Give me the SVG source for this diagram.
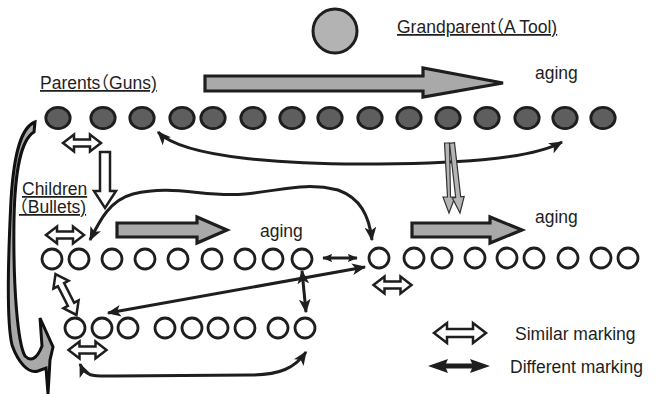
<svg xmlns="http://www.w3.org/2000/svg" xmlns:xlink="http://www.w3.org/1999/xlink" width="656" height="394" viewBox="0 0 656 394">
<style>
text{font-family:"Liberation Sans","Noto Sans CJK JP",sans-serif;font-size:17.5px;fill:#1e1e1e;font-feature-settings:"halt"}
.u{text-decoration:underline}
.pa{fill:#5e5e5e;stroke:#1e1e1e;stroke-width:2.8}
.ch{fill:#fff;stroke:#1e1e1e;stroke-width:2.8}
.gp{fill:#b3b3b3;stroke:#1e1e1e;stroke-width:3}
.big{fill:#a9a9a9;stroke:#1e1e1e;stroke-width:3.2;stroke-linejoin:miter}
.rib{fill:#a9a9a9;stroke:#111;stroke-width:3;stroke-linejoin:miter}
.thin{fill:#b5b5b5;stroke:#333;stroke-width:1.2}
.hol{fill:#fff;stroke:#1e1e1e;stroke-width:2.5;stroke-linejoin:miter}
.con{fill:none;stroke:#1e1e1e;stroke-width:3;marker-start:url(#ah);marker-end:url(#ah)}
.cons{fill:none;stroke:#1e1e1e;stroke-width:3;marker-start:url(#ahs);marker-end:url(#ahs)}
</style>
<defs>
<marker id="ah" viewBox="0 0 12 10" refX="11" refY="5" markerWidth="14" markerHeight="12" markerUnits="userSpaceOnUse" orient="auto-start-reverse"><path d="M0,0 L12,5 L0,10 L3,5 Z" fill="#1e1e1e"/></marker>
<marker id="ahs" viewBox="0 0 12 10" refX="11" refY="5" markerWidth="10" markerHeight="9" markerUnits="userSpaceOnUse" orient="auto-start-reverse"><path d="M0,0 L12,5 L0,10 L2,5 Z" fill="#1e1e1e"/></marker>
<path id="h38" class="hol" d="M-19,0 L-8,-8.5 L-8,-3.5 L8,-3.5 L8,-8.5 L19,0 L8,8.5 L8,3.5 L-8,3.5 L-8,8.5 Z"/>
</defs>

<g id="grandparent"><circle class="gp" cx="335" cy="31" r="22"/></g>
<g id="labels">
<text class="u" x="397" y="33">Grandparent（A Tool)</text>
<text class="u" x="40" y="89">Parents（Guns)</text>
<text class="u" x="22" y="195">Children</text>
<text class="u" x="19" y="213">（Bullets)</text>
<text x="535" y="79">aging</text>
<text x="260" y="237">aging</text>
<text x="535" y="223">aging</text>
<text x="515" y="340">Similar marking</text>
<text x="510" y="373">Different marking</text>
</g>

<g id="aging-arrows">
<path class="big" d="M205,76 L423,76 L423,68 L503,83 L423,97 L423,91 L205,91 Z"/>
<path class="big" d="M117,223 L197,223 L197,217 L227,230 L197,243 L197,237 L117,237 Z"/>
<path class="big" d="M412,223 L490,223 L490,217 L522,230 L490,243 L490,237 L412,237 Z"/>
</g>

<g id="parents">
<g id="p1"><ellipse class="pa" cx="58" cy="118" rx="12.2" ry="10.6"/></g>
<g id="p2"><ellipse class="pa" cx="103" cy="118" rx="12.2" ry="10.6"/></g>
<g id="p3"><ellipse class="pa" cx="142" cy="118" rx="12.2" ry="10.6"/></g>
<g id="p4"><ellipse class="pa" cx="182" cy="118" rx="12.2" ry="10.6"/></g>
<g id="p5"><ellipse class="pa" cx="213" cy="118" rx="12.2" ry="10.6"/></g>
<g id="p6"><ellipse class="pa" cx="253" cy="118" rx="12.2" ry="10.6"/></g>
<g id="p7"><ellipse class="pa" cx="292" cy="118" rx="12.2" ry="10.6"/></g>
<g id="p8"><ellipse class="pa" cx="330" cy="118" rx="12.2" ry="10.6"/></g>
<g id="p9"><ellipse class="pa" cx="370" cy="118" rx="12.2" ry="10.6"/></g>
<g id="p10"><ellipse class="pa" cx="409" cy="118" rx="12.2" ry="10.6"/></g>
<g id="p11"><ellipse class="pa" cx="448" cy="118" rx="12.2" ry="10.6"/></g>
<g id="p12"><ellipse class="pa" cx="487" cy="118" rx="12.2" ry="10.6"/></g>
<g id="p13"><ellipse class="pa" cx="527" cy="118" rx="12.2" ry="10.6"/></g>
<g id="p14"><ellipse class="pa" cx="565" cy="118" rx="12.2" ry="10.6"/></g>
<g id="p15"><ellipse class="pa" cx="603" cy="118" rx="12.2" ry="10.6"/></g>
</g>

<g id="children-row1">
<g id="a1"><circle class="ch" cx="52" cy="259" r="10"/></g>
<g id="a2"><circle class="ch" cx="79" cy="259" r="10"/></g>
<g id="a3"><circle class="ch" cx="112" cy="259" r="10"/></g>
<g id="a4"><circle class="ch" cx="145" cy="259" r="10"/></g>
<g id="a5"><circle class="ch" cx="178" cy="259" r="10"/></g>
<g id="a6"><circle class="ch" cx="212" cy="259" r="10"/></g>
<g id="a7"><circle class="ch" cx="245" cy="259" r="10"/></g>
<g id="a8"><circle class="ch" cx="273" cy="259" r="10"/></g>
<g id="a9"><circle class="ch" cx="302" cy="259" r="10"/></g>
<g id="b1"><circle class="ch" cx="379" cy="258" r="10"/></g>
<g id="b2"><circle class="ch" cx="414" cy="258" r="10"/></g>
<g id="b3"><circle class="ch" cx="442" cy="258" r="10"/></g>
<g id="b4"><circle class="ch" cx="475" cy="258" r="10"/></g>
<g id="b5"><circle class="ch" cx="507" cy="258" r="10"/></g>
<g id="b6"><circle class="ch" cx="534" cy="258" r="10"/></g>
<g id="b7"><circle class="ch" cx="568" cy="258" r="10"/></g>
<g id="b8"><circle class="ch" cx="601" cy="258" r="10"/></g>
<g id="b9"><circle class="ch" cx="628" cy="258" r="10"/></g>
</g>

<g id="children-row2">
<g id="c1"><circle class="ch" cx="75" cy="328" r="10"/></g>
<g id="c2"><circle class="ch" cx="102" cy="328" r="10"/></g>
<g id="c3"><circle class="ch" cx="128" cy="328" r="10"/></g>
<g id="c4"><circle class="ch" cx="165" cy="328" r="10"/></g>
<g id="c5"><circle class="ch" cx="192" cy="328" r="10"/></g>
<g id="c6"><circle class="ch" cx="218" cy="328" r="10"/></g>
<g id="c7"><circle class="ch" cx="245" cy="328" r="10"/></g>
<g id="c8"><circle class="ch" cx="278" cy="328" r="10"/></g>
<g id="c9"><circle class="ch" cx="305" cy="328" r="10"/></g>
</g>

<g id="connectors">
<path class="rib" d="M35,122 C22,127 14,150 11,200 C8,260 6,320 12,345 C18,362 28,374 38,371 L46,368 L48,394 L50,360 L53,347 L40,318 L42,346 C37,359 31,362 25,356 C18,344 13,290 14,220 C15,168 21,140 34,132 Z"/>
<path class="con" d="M158,132 C185,160 300,164 360,164 C450,164 530,160 562,142"/>
<path class="thin" d="M444.5,143 L449.5,143 L450.5,197 L455,197 L449,213 L443,197 L447.5,197 Z"/>
<path class="thin" d="M449.5,143.3 L454.5,142.7 L460.7,196.8 L464.2,196.4 L460,213 L452.2,197.8 L455.7,197.4 Z"/>
<path class="hol" d="M100,152 L110,152 L110,191 L116,191 L105,208 L94,191 L100,191 Z"/>
<use xlink:href="#h38" transform="translate(82,143)"/>
<use xlink:href="#h38" transform="translate(65,235)"/>
<use xlink:href="#h38" transform="translate(87.5,350)"/>
<use xlink:href="#h38" transform="translate(392.5,285)"/>
<path class="hol" transform="translate(66,294.5) rotate(62.9)" d="M-23,0 L-11,-8.5 L-11,-3.5 L11,-3.5 L11,-8.5 L23,0 L11,8.5 L11,3.5 L-11,3.5 L-11,8.5 Z"/>
<path class="con" d="M90,240 C100,220 110,200 133,194 C175,184 205,198 245,194 C285,190 305,182 338,190 C360,198 369,215 372,240"/>
<path class="cons" d="M323,258 L357,258"/>
<path class="con" d="M108,313 L365,267"/>
<path class="con" d="M302,271 L306,312"/>
<path class="con" d="M80,364 C86,378 95,376 115,376 L250,375 C280,375 295,368 306,352"/>
</g>

<g id="legend">
<path class="hol" transform="translate(460,333)" d="M-26,0 L-13,-10 L-13,-4 L13,-4 L13,-10 L26,0 L13,10 L13,4 L-13,4 L-13,10 Z"/>
<path fill="#1e1e1e" d="M428,366 L448,359 L446,363.5 L472,363.5 L470,359 L490,366 L470,373 L472,368.5 L446,368.5 L448,373 Z"/>
</g>
</svg>
